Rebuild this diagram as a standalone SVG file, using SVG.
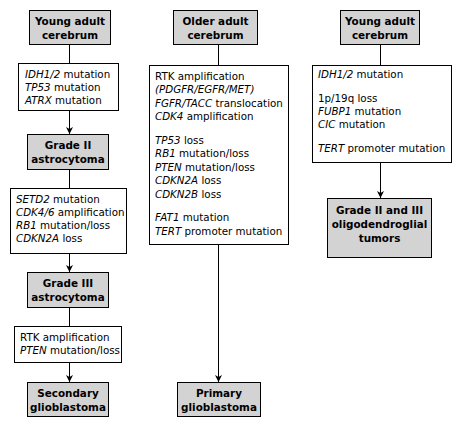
<svg xmlns="http://www.w3.org/2000/svg" width="457" height="427" viewBox="0 0 457 427">
<defs>
<style>
.t{font-family:"DejaVu Sans",Verdana,sans-serif;font-size:10.3px;fill:#000}
.h{font-family:"DejaVu Sans",Verdana,sans-serif;font-size:10.4px;font-weight:bold;fill:#000;text-anchor:middle}
.g{fill:#d3d3d3;stroke:#000;stroke-width:1}
.w{fill:#fff;stroke:#000;stroke-width:1}
.c{stroke:#000;stroke-width:1;fill:none}
.i{font-style:italic}
</style>
<marker id="ah" viewBox="0 0 10 10" refX="10" refY="5" markerWidth="8" markerHeight="7" markerUnits="userSpaceOnUse" orient="auto">
<path d="M0,0 L10,5 L0,10 L3,5 Z" fill="#000"/>
</marker>
</defs>
<rect width="457" height="427" fill="#fff"/>
<g id="connectors">
<line class="c" x1="69.5" y1="44" x2="69.5" y2="63"/>
<line class="c" x1="69.5" y1="110" x2="69.5" y2="134" marker-end="url(#ah)"/>
<line class="c" x1="69.5" y1="170" x2="69.5" y2="188"/>
<line class="c" x1="69.5" y1="253" x2="69.5" y2="272" marker-end="url(#ah)"/>
<line class="c" x1="69.5" y1="307" x2="69.5" y2="326"/>
<line class="c" x1="69.5" y1="362" x2="69.5" y2="382" marker-end="url(#ah)"/>
<line class="c" x1="218.5" y1="44" x2="218.5" y2="65"/>
<line class="c" x1="218.5" y1="244" x2="218.5" y2="382" marker-end="url(#ah)"/>
<line class="c" x1="380.5" y1="44" x2="380.5" y2="65"/>
<line class="c" x1="380.5" y1="162" x2="380.5" y2="198" marker-end="url(#ah)"/>
</g>
<g id="young1">
<rect class="g" x="29.5" y="10.5" width="81" height="34"/>
<text class="h" x="70" y="25">Young adult</text>
<text class="h" x="70" y="39">cerebrum</text>
</g>
<g id="mut1">
<rect class="w" x="18.5" y="63.5" width="100" height="47"/>
<text class="t" x="25" y="78"><tspan class="i">IDH1/2</tspan> mutation</text>
<text class="t" x="25" y="91"><tspan class="i">TP53</tspan> mutation</text>
<text class="t" x="25" y="104"><tspan class="i">ATRX</tspan> mutation</text>
</g>
<g id="grade2">
<rect class="g" x="27.5" y="134.5" width="81" height="35"/>
<text class="h" x="68" y="149">Grade II</text>
<text class="h" x="68" y="163">astrocytoma</text>
</g>
<g id="mut2">
<rect class="w" x="10.5" y="188.5" width="116" height="65"/>
<text class="t" x="16" y="203"><tspan class="i">SETD2</tspan> mutation</text>
<text class="t" x="16" y="216"><tspan class="i">CDK4/6</tspan> amplification</text>
<text class="t" x="16" y="229"><tspan class="i">RB1</tspan> mutation/loss</text>
<text class="t" x="16" y="242"><tspan class="i">CDKN2A</tspan> loss</text>
</g>
<g id="grade3">
<rect class="g" x="27.5" y="272.5" width="81" height="35"/>
<text class="h" x="68" y="287">Grade III</text>
<text class="h" x="68" y="301">astrocytoma</text>
</g>
<g id="mut3">
<rect class="w" x="14.5" y="326.5" width="107" height="36"/>
<text class="t" x="20" y="341">RTK amplification</text>
<text class="t" x="20" y="354"><tspan class="i">PTEN</tspan> mutation/loss</text>
</g>
<g id="secondary">
<rect class="g" x="27.5" y="382.5" width="81" height="34"/>
<text class="h" x="68" y="397">Secondary</text>
<text class="h" x="68" y="411">glioblastoma</text>
</g>
<g id="older">
<rect class="g" x="173.5" y="10.5" width="84" height="34"/>
<text class="h" x="215.5" y="25">Older adult</text>
<text class="h" x="215.5" y="39">cerebrum</text>
</g>
<g id="mut4">
<rect class="w" x="149.5" y="65.5" width="139" height="179"/>
<text class="t" x="155" y="80">RTK amplification</text>
<text class="t i" x="155" y="93">(PDGFR/EGFR/MET)</text>
<text class="t" x="155" y="107"><tspan class="i">FGFR/TACC</tspan> translocation</text>
<text class="t" x="155" y="120"><tspan class="i">CDK4</tspan> amplification</text>
<text class="t" x="155" y="144"><tspan class="i">TP53</tspan> loss</text>
<text class="t" x="155" y="157"><tspan class="i">RB1</tspan> mutation/loss</text>
<text class="t" x="155" y="171"><tspan class="i">PTEN</tspan> mutation/loss</text>
<text class="t" x="155" y="184"><tspan class="i">CDKN2A</tspan> loss</text>
<text class="t" x="155" y="198"><tspan class="i">CDKN2B</tspan> loss</text>
<text class="t" x="155" y="221"><tspan class="i">FAT1</tspan> mutation</text>
<text class="t" x="155" y="235"><tspan class="i">TERT</tspan> promoter mutation</text>
</g>
<g id="primary">
<rect class="g" x="177.5" y="382.5" width="83" height="34"/>
<text class="h" x="219" y="397">Primary</text>
<text class="h" x="219" y="411">glioblastoma</text>
</g>
<g id="young2">
<rect class="g" x="340.5" y="10.5" width="79" height="34"/>
<text class="h" x="380" y="25">Young adult</text>
<text class="h" x="380" y="39">cerebrum</text>
</g>
<g id="mut5">
<rect class="w" x="312.5" y="65.5" width="139" height="97"/>
<text class="t" x="318" y="78"><tspan class="i">IDH1/2</tspan> mutation</text>
<text class="t" x="318" y="102">1p/19q loss</text>
<text class="t" x="318" y="115"><tspan class="i">FUBP1</tspan> mutation</text>
<text class="t" x="318" y="128"><tspan class="i">CIC</tspan> mutation</text>
<text class="t" x="318" y="152"><tspan class="i">TERT</tspan> promoter mutation</text>
</g>
<g id="oligo">
<rect class="g" x="327.5" y="198.5" width="104" height="59"/>
<text class="h" x="379.5" y="214">Grade II and III</text>
<text class="h" x="379.5" y="228">oligodendroglial</text>
<text class="h" x="379.5" y="242">tumors</text>
</g>
</svg>
